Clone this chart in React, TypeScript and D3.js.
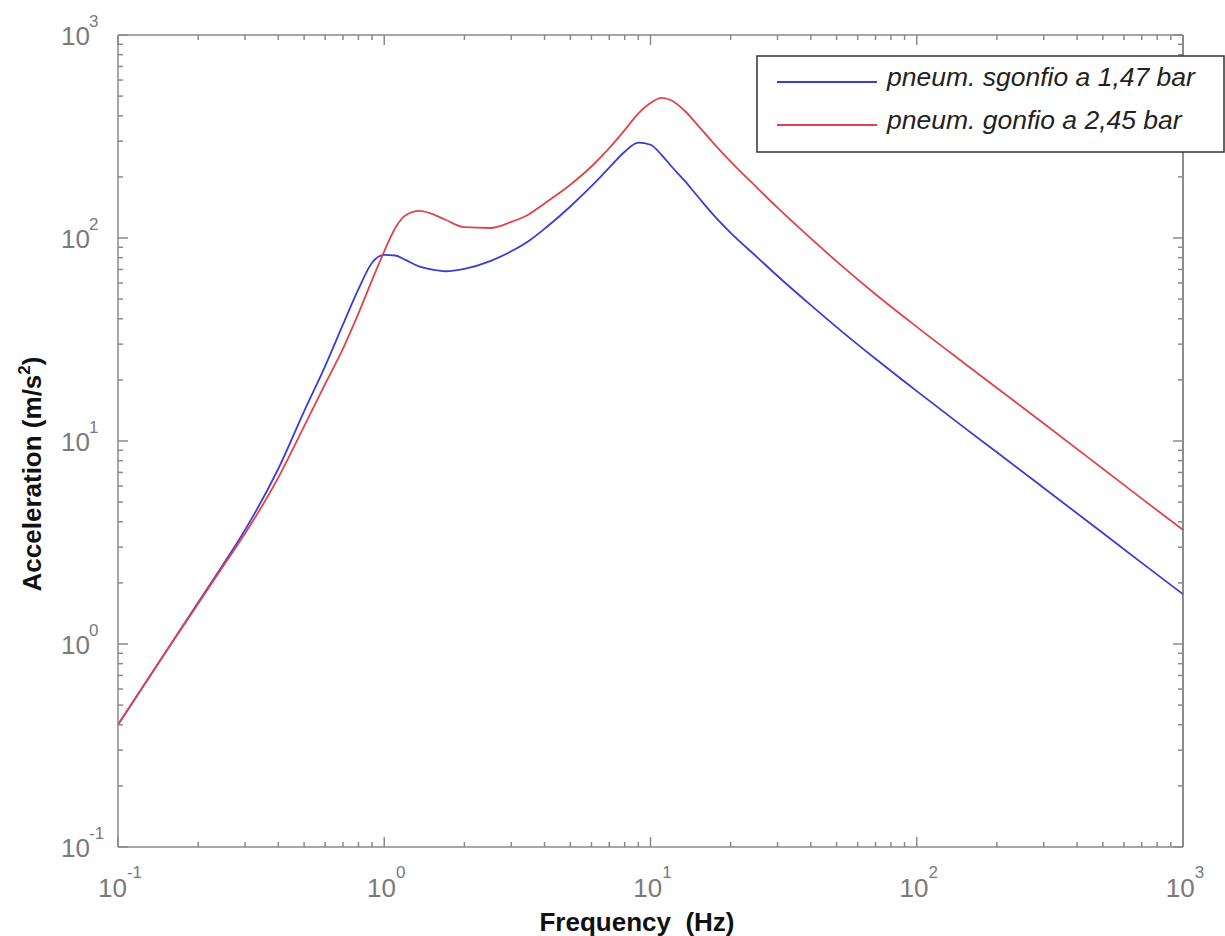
import React from "react";
import * as d3 from "d3";

// ---- data ----
const freqHz = [
  0.1, 0.15, 0.2, 0.25, 0.3, 0.4, 0.5, 0.6, 0.7, 0.8,
  0.9, 1.0, 1.1, 1.2, 1.35, 1.5, 1.7, 2.0, 2.5, 3.0,
  3.5, 4.0, 5.0, 6.0, 7.0, 8.0, 9.0, 10, 11, 12,
  13.5, 15, 17.5, 20, 25, 30, 40, 50, 70, 100,
  150, 200, 300, 500, 700, 1000,
];

const accSgonfio = [
  0.4, 0.9, 1.6, 2.5, 3.65, 7.3, 14, 23.4, 37.5, 56,
  75.5, 82.5, 82, 78, 72.5, 70, 68.6, 70.5, 77, 86,
  97, 111, 143, 180, 222, 266, 295, 288, 257, 225,
  190, 161, 127, 106, 81, 65, 46.7, 36.4, 25.4, 17.6,
  11.7, 8.8, 5.87, 3.52, 2.51, 1.76,
];

const accGonfio = [
  0.4, 0.9, 1.58, 2.45, 3.5, 6.6, 11.8, 19.1, 28.5, 42.5,
  62, 86, 112, 129, 136, 132, 123, 113, 112, 120,
  131, 148, 183, 225, 277, 340, 410, 462, 490, 476,
  421, 361, 287, 238, 178, 141, 99.5, 76.7, 52.8, 36.5,
  24.3, 18.25, 12.2, 7.3, 5.2, 3.65,
];

const seriesNames = ["pneum. sgonfio a 1,47 bar", "pneum. gonfio a 2,45 bar"];
const seriesColors = ["#3c3cd6", "#e0434a"];

const xTickExponents = [-1, 0, 1, 2, 3];
const yTickExponents = [-1, 0, 1, 2, 3];
const minorMultipliers = [2, 3, 4, 5, 6, 7, 8, 9];

const xLabel = "Frequency  (Hz)";
const yLabelMain = "Acceleration (m/s";
const yLabelSup = "2";
const yLabelEnd = ")";

// ---- layout ----
const W = 1225;
const H = 936;
const L = 118, R = 1183, T = 35, B = 847;
const FONT = "'Liberation Sans', Arial, Helvetica, sans-serif";
const AXIS = "#8a8a8a";
const TICKTXT = "#7a7a7a";

export default function App() {
  const x = d3.scaleLog().domain([0.1, 1000]).range([L, R]);
  const y = d3.scaleLog().domain([0.1, 1000]).range([B, T]);

  const line = d3
    .line<[number, number]>()
    .x((d) => x(d[0]))
    .y((d) => y(d[1]))
    .curve(d3.curveMonotoneX);

  const series = [accSgonfio, accGonfio].map((vals) =>
    freqHz.map((f, i) => [f, vals[i]] as [number, number])
  );

  const majors = xTickExponents.map((e) => Math.pow(10, e));
  const minors: number[] = [];
  for (let e = -1; e < 3; e++) {
    for (const m of minorMultipliers) minors.push(m * Math.pow(10, e));
  }
  const yMajors = yTickExponents.map((e) => Math.pow(10, e));

  const MAJ = 10;
  const MIN = 5;

  const ticks: JSX.Element[] = [];
  majors.forEach((v, i) => {
    ticks.push(<line key={`xb${i}`} x1={x(v)} x2={x(v)} y1={B} y2={B - MAJ} />);
    ticks.push(<line key={`xt${i}`} x1={x(v)} x2={x(v)} y1={T} y2={T + MAJ} />);
  });
  minors.forEach((v, i) => {
    ticks.push(<line key={`xbm${i}`} x1={x(v)} x2={x(v)} y1={B} y2={B - MIN} />);
    ticks.push(<line key={`xtm${i}`} x1={x(v)} x2={x(v)} y1={T} y2={T + MIN} />);
  });
  yMajors.forEach((v, i) => {
    ticks.push(<line key={`yl${i}`} x1={L} x2={L + MAJ} y1={y(v)} y2={y(v)} />);
    ticks.push(<line key={`yr${i}`} x1={R} x2={R - MAJ} y1={y(v)} y2={y(v)} />);
  });
  minors.forEach((v, i) => {
    ticks.push(<line key={`ylm${i}`} x1={L} x2={L + MIN} y1={y(v)} y2={y(v)} />);
    ticks.push(<line key={`yrm${i}`} x1={R} x2={R - MIN} y1={y(v)} y2={y(v)} />);
  });

  const legendX = 757, legendY = 56, legendW = 467, legendH = 96;
  const rowY = [82, 125];

  return (
    <svg
      width={W}
      height={H}
      style={{ position: "absolute", left: 0, top: 0, background: "#fff" }}
      fontFamily={FONT}
    >
      <rect x={0} y={0} width={W} height={H} fill="#fff" />

      {series.map((s, i) => (
        <path
          key={i}
          d={line(s) || ""}
          fill="none"
          stroke={seriesColors[i]}
          strokeWidth={1.8}
          strokeLinejoin="round"
        />
      ))}

      <g stroke={AXIS} strokeWidth={1.5} fill="none">
        <line x1={L} x2={L} y1={T} y2={B} />
        <line x1={L} x2={R} y1={B} y2={B} />
        <line x1={L} x2={R} y1={T} y2={T} />
        <line x1={R} x2={R} y1={T} y2={B} stroke="#666" />
        {ticks}
      </g>

      {yTickExponents.map((e) => (
        <g key={`yl${e}`} fill={TICKTXT}>
          <text x={90} y={y(Math.pow(10, e)) + 10} fontSize={26} textAnchor="end">
            10
          </text>
          <text x={89} y={y(Math.pow(10, e)) - 8} fontSize={17}>
            {e}
          </text>
        </g>
      ))}

      {xTickExponents.map((e) => (
        <text
          key={`xl${e}`}
          x={x(Math.pow(10, e)) + 2}
          y={897}
          fontSize={26}
          fill={TICKTXT}
          textAnchor="middle"
        >
          <tspan>10</tspan>
          <tspan fontSize={17} dy={-19}>
            {e}
          </tspan>
        </text>
      ))}

      <text
        x={637}
        y={931}
        fontSize={26}
        fontWeight="bold"
        textAnchor="middle"
        fill="#111"
        style={{ whiteSpace: "pre" }}
      >
        {xLabel}
      </text>
      <text
        transform={`translate(41, 474) rotate(-90)`}
        fontSize={26}
        fontWeight="bold"
        textAnchor="middle"
        fill="#111"
      >
        <tspan>{yLabelMain}</tspan>
        <tspan fontSize={17} dy={-11}>
          {yLabelSup}
        </tspan>
        <tspan dy={11}>{yLabelEnd}</tspan>
      </text>

      <rect
        x={legendX}
        y={legendY}
        width={legendW}
        height={legendH}
        fill="#fff"
        stroke="#333"
        strokeWidth={1.5}
      />
      {seriesNames.map((name, i) => (
        <g key={name}>
          <line
            x1={777}
            x2={877}
            y1={rowY[i]}
            y2={rowY[i]}
            stroke={seriesColors[i]}
            strokeWidth={1.8}
          />
          <text
            x={887}
            y={rowY[i] + 4}
            fontSize={26.5}
            fontStyle="italic"
            fill="#222"
          >
            {name}
          </text>
        </g>
      ))}
    </svg>
  );
}
